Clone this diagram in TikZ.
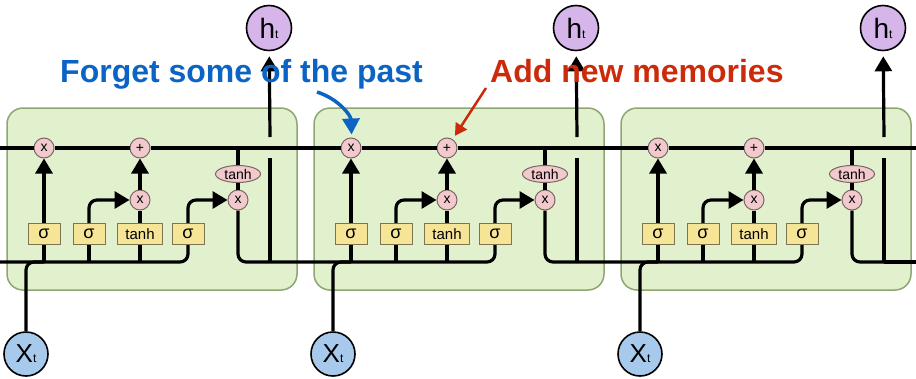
\documentclass[tikz,border=0pt]{standalone}
\usepackage{fontspec}
\setmainfont{Liberation Sans}
\usetikzlibrary{arrows.meta, positioning, shapes.geometric}

\tikzset{
    wire/.style={line width=3.2pt, black},
    arr/.style={wire, -{Triangle[length=15pt,width=17pt]}},
    cellbox/.style={draw=cellBorder, fill=cellFill, line width=1.5pt, rounded corners=16pt},
    gate/.style={draw=gateBorder, fill=gateFill, line width=1pt, minimum width=32pt, minimum height=21pt, inner sep=0pt, font=\fontsize{18}{18}\selectfont},
    opnode/.style={circle, draw=opBorder, fill=opFill, line width=1pt, minimum size=20pt, inner sep=0pt, font=\fontsize{14}{14}\selectfont},
    tanhnode/.style={ellipse, draw=opBorder, fill=opFill, line width=1pt, minimum width=45pt, minimum height=17pt, inner sep=0pt, font=\fontsize{14}{14}\selectfont},
    hnode/.style={circle, draw=black, fill=hFill, line width=1.6pt, minimum size=45pt, inner sep=0pt},
    xnode/.style={circle, draw=black, fill=xFill, line width=1.6pt, minimum size=44pt, inner sep=0pt}
}

\begin{document}
\begin{tikzpicture}[x=1pt, y=1pt]
    % Define cell spacing
    \def\cellGap{307}

    \definecolor{cellFill}{HTML}{E1F0CD}
    \definecolor{cellBorder}{HTML}{8FA673}
    \definecolor{gateFill}{HTML}{F7E597}
    \definecolor{gateBorder}{HTML}{7D7450}
    \definecolor{opFill}{HTML}{F2C9CC}
    \definecolor{opBorder}{HTML}{7A6666}
    \definecolor{hFill}{HTML}{D5B5EA}
    \definecolor{xFill}{HTML}{A7C9EB}
    \definecolor{forgetBlue}{HTML}{0B64C4}
    \definecolor{addRed}{HTML}{CC2A0A}

    \useasboundingbox (0,0) rectangle (916,-378);

    % Draw cell boxes
    \foreach \i in {0,1,2}
        \draw[cellbox, xshift=\i*\cellGap pt] (7,-108) rectangle (297,-290);

    % Place gates and point-wise operations
    \foreach \i in {0,1,2} {
        \begin{scope}[xshift=\i*\cellGap pt]
            \node[opnode] (f\i) at (44,-148) {x};
            \node[opnode] (p\i) at (140,-148) {+};
            \node[opnode] (m\i) at (140,-200) {x};
            \node[opnode] (o\i) at (238,-200) {x};
            \node[tanhnode] (t\i) at (238,-174) {tanh};

            \node[gate] (sf\i) at (44,-234) {σ};
            \node[gate] (si\i) at (89,-234) {σ};
            \node[gate, minimum width=45pt, font=\fontsize{15}{15}\selectfont] (tg\i) at (140,-234) {tanh};
            \node[gate] (so\i) at (188,-234) {σ};

            \node[hnode] (h\i) at (269,-28) {\fontsize{28}{28}\selectfont h\fontsize{12}{12}\selectfont t};
            \node[xnode] (x\i) at (26,-354) {\fontsize{26}{26}\selectfont X\fontsize{12}{12}\selectfont t};

            \coordinate (b\i) at (-37,-262);
            \coordinate (j\i) at (270,-262);
            \coordinate (g\i) at (270,-158);
            \coordinate (k\i) at (270,-137);
            \coordinate (c\i) at (238,-148);
        \end{scope}
    }

    % Draw the cell state
    \coordinate (csIn) at (0,-148);
    \coordinate (csOut) at (916,-148);
    \draw[wire] (csIn) -- (f0) -- (p0) -- (f1) -- (p1) -- (f2) -- (p2) -- (csOut);

    % Draw the wires inside each cell
    \foreach \i in {0,1,2} {
        \draw[wire, rounded corners=8pt] (b\i) -| (so\i);
        \draw[wire, rounded corners=8pt] (x\i) |- (sf\i |- j\i);
        \draw[wire] (sf\i) -- (sf\i |- j\i);
        \draw[wire] (si\i) -- (si\i |- j\i);
        \draw[wire] (tg\i) -- (tg\i |- j\i);

        \draw[arr] (sf\i) -- (f\i);
        \draw[arr, rounded corners=8pt] (si\i) |- (m\i);
        \draw[wire] (tg\i) -- (m\i);
        \draw[arr] (m\i) -- (p\i);

        \draw[wire] (c\i) -- (t\i);
        \draw[wire] (t\i) -- (o\i);
        \draw[arr, rounded corners=8pt] (so\i) |- (o\i);
        \draw[wire, rounded corners=8pt] (o\i) |- (j\i);

        \draw[wire] (j\i) -- (g\i);
        \draw[arr, shorten >=5pt] (k\i) -- (h\i);
    }
    \coordinate (hOut) at (916,-262);
    \draw[wire] (j2) -- (hOut);

    % Labels with their pointers
    \coordinate (forgetTail) at (317,-92);
    \coordinate (addTail) at (486,-88);
    \draw[forgetBlue, line width=3.5pt, -{Triangle[length=16pt,width=17pt]}, shorten >=3pt] (forgetTail) to[bend left=35] (f1);
    \draw[addRed, line width=2.5pt, -{Triangle[length=12pt,width=13pt]}, shorten >=4pt] (addTail) -- (p1);

    \node[anchor=base west, inner sep=0pt, text=forgetBlue, font=\fontsize{32}{32}\selectfont\bfseries] (forget) at (60,-82) {Forget some of the past};
    \node[anchor=base west, inner sep=0pt, text=addRed, font=\fontsize{32}{32}\selectfont\bfseries] (add) at (490,-82) {Add new memories};

\end{tikzpicture}
\end{document}
